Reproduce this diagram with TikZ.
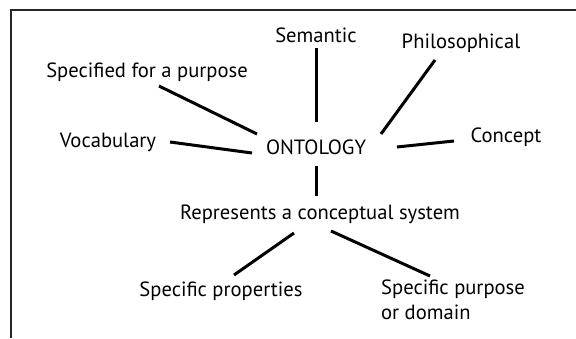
\documentclass[tikz,border=0pt]{standalone}
\usepackage{fontspec}
\setmainfont{PT Sans}
\begin{document}
\begin{tikzpicture}[x=1pt,y=-1pt,
  lbl/.style={inner sep=0pt, anchor=base, font=\fontsize{20.6}{25}\selectfont},
  link/.style={line width=3pt},
  frame/.style={line width=1.6pt, draw=black!85}]
\useasboundingbox (0,0) rectangle (576,338);
% open frame: left and top edges only
\draw[frame] (11,338) -- (11,10) -- (576,10);

% labels
\node[lbl] (onto)  at (316,154) {ONTOLOGY};
\node[lbl] (sem)   at (316,42)  {Semantic};
\node[lbl] (philo) at (461,48)  {Philosophical};
\node[lbl] (spec)  at (147,77)  {Specified for a purpose};
\node[lbl] (vocab) at (108,147) {Vocabulary};
\node[lbl] (conc)  at (506,142) {Concept};
\node[lbl] (rep)   at (320,219) {Represents a conceptual system};
\node[lbl] (props) at (221,296) {Specific properties};
\node[lbl, anchor=north west, align=left] (purp) at (381,280) {Specific purpose\\or domain};

% connectors
\draw[link] ([shift={(0,6)}]sem.base)     -- ([shift={(0,-32)}]onto.base);
\draw[link] ([shift={(-26,12)}]philo.base) -- ([shift={(65,-20)}]onto.base);
\draw[link] ([shift={(-52,-1)}]conc.base)  -- ([shift={(81,-7)}]onto.base);
\draw[link] ([shift={(12,9)}]spec.base)    -- ([shift={(-59,-20)}]onto.base);
\draw[link] ([shift={(62,-5)}]vocab.base)  -- ([shift={(-64,-1)}]onto.base);
\draw[link] ([shift={(0,12)}]onto.base)    -- ([shift={(-4,-23)}]rep.base);
\draw[link] ([shift={(-26,14)}]rep.base)   -- ([shift={(13,-21)}]props.base);
\draw[link] ([shift={(11,12)}]rep.base)    -- ([shift={(49,-4)}]purp.north west);
\end{tikzpicture}
\end{document}
